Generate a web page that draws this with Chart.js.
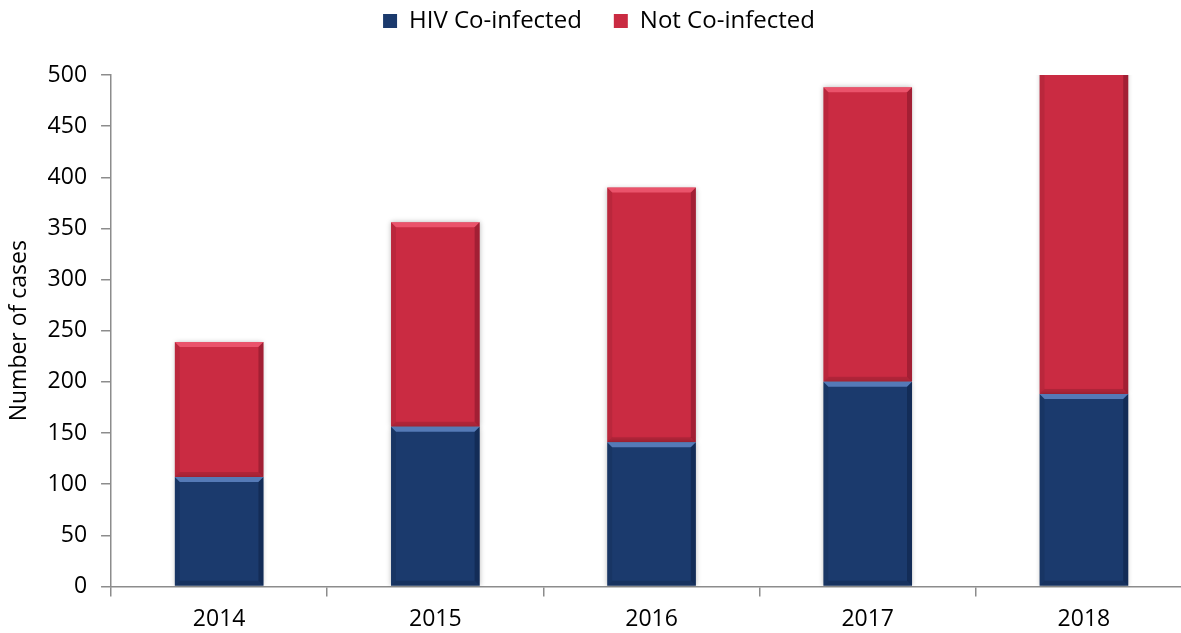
<!DOCTYPE html>
<html>
<head>
<meta charset="utf-8">
<script src="https://cdn.jsdelivr.net/npm/chart.js@4.4.1/dist/chart.umd.min.js"></script>
<style>
  html, body { margin: 0; padding: 0; background: #fff; overflow: hidden; }
  #wrap { width: 1192px; height: 633px; position: relative; }
</style>
</head>
<body>
<div id="wrap"><canvas id="chart"></canvas></div>
<script>
// Cases by year, split by HIV co-infection status
const years = ['2014', '2015', '2016', '2017', '2018'];
const hivCoinfected = [107, 156, 141, 200, 188];
const notCoinfected = [132, 200, 249, 288, 330];
const yTicks = [0, 50, 100, 150, 200, 250, 300, 350, 400, 450, 500];

const RED = '#CA2B42';
const BLUE = '#1B3A6D';
const FONT = "'Open Sans', 'Liberation Sans', sans-serif";

// Soft shadow behind the bars
const barShadow = {
  id: 'barShadow',
  beforeDatasetsDraw(chart) {
    const ctx = chart.ctx;
    ctx.save();
    ctx.shadowColor = 'rgba(0,0,0,0.28)';
    ctx.shadowBlur = 5;
    ctx.shadowOffsetX = 0;
    ctx.shadowOffsetY = 0;
  },
  afterDatasetsDraw(chart) {
    chart.ctx.restore();
  }
};

// Bevelled look on each bar segment: light top edge, darker sides
const bevel = {
  id: 'bevel',
  afterDatasetsDraw(chart) {
    const ctx = chart.ctx;
    const area = chart.chartArea;
    ctx.save();
    ctx.beginPath();
    ctx.rect(area.left, area.top, area.right - area.left, area.bottom - area.top);
    ctx.clip();
    chart.data.datasets.forEach((ds, i) => {
      const meta = chart.getDatasetMeta(i);
      const light = i === 0 ? 'rgba(110,150,215,0.7)' : 'rgba(255,110,135,0.6)';
      const dark = i === 0 ? 'rgba(5,20,45,0.35)' : 'rgba(90,10,25,0.35)';
      meta.data.forEach(bar => {
        const left = bar.x - bar.width / 2;
        const right = bar.x + bar.width / 2;
        const top = Math.min(bar.y, bar.base);
        const bottom = Math.max(bar.y, bar.base);
        const b = 5;
        ctx.fillStyle = light;
        ctx.beginPath();
        ctx.moveTo(left, top);
        ctx.lineTo(right, top);
        ctx.lineTo(right - b, top + b);
        ctx.lineTo(left + b, top + b);
        ctx.closePath();
        ctx.fill();
        ctx.fillStyle = dark;
        ctx.beginPath();
        ctx.moveTo(right, top);
        ctx.lineTo(right, bottom);
        ctx.lineTo(right - b, bottom - b);
        ctx.lineTo(right - b, top + b);
        ctx.closePath();
        ctx.fill();
        ctx.fillStyle = 'rgba(0,0,0,0.12)';
        ctx.beginPath();
        ctx.moveTo(left, bottom);
        ctx.lineTo(right, bottom);
        ctx.lineTo(right - b, bottom - b);
        ctx.lineTo(left + b, bottom - b);
        ctx.closePath();
        ctx.fill();
        ctx.fillStyle = 'rgba(0,0,0,0.08)';
        ctx.beginPath();
        ctx.moveTo(left, top);
        ctx.lineTo(left + b, top + b);
        ctx.lineTo(left + b, bottom - b);
        ctx.lineTo(left, bottom);
        ctx.closePath();
        ctx.fill();
      });
    });
    ctx.restore();
  }
};

// Extra room between the legend and the plot
const legendGap = {
  id: 'legendGap',
  beforeInit(chart) {
    const fit = chart.legend.fit;
    chart.legend.fit = function () {
      fit.bind(chart.legend)();
      this.height += 32;
    };
  }
};

new Chart(document.getElementById('chart'), {
  type: 'bar',
  data: {
    labels: years,
    datasets: [
      { label: 'HIV Co-infected', data: hivCoinfected, backgroundColor: BLUE, borderWidth: 0 },
      { label: 'Not Co-infected', data: notCoinfected, backgroundColor: RED, borderWidth: 0 }
    ]
  },
  options: {
    responsive: true,
    maintainAspectRatio: false,
    animation: false,
    layout: { padding: { top: -23, left: 6, right: 0, bottom: -9 } },
    datasets: { bar: { barPercentage: 0.41, categoryPercentage: 1 } },
    plugins: {
      legend: {
        position: 'top',
        align: 'center',
        labels: {
          boxWidth: 14, boxHeight: 14, padding: 32,
          color: '#000', font: { family: FONT, size: 24 }
        }
      },
      tooltip: { enabled: false }
    },
    scales: {
      x: {
        stacked: true,
        offset: true,
        border: { color: '#8c8c8c', width: 1.5 },
        grid: { display: true, drawOnChartArea: false, offset: true, tickLength: 10, color: '#8c8c8c', lineWidth: 1.5 },
        ticks: { color: '#000', font: { family: FONT, size: 23 }, padding: 9 }
      },
      y: {
        stacked: true,
        min: 0,
        max: 500,
        afterBuildTicks(scale) { scale.ticks = yTicks.map(v => ({ value: v })); },
        border: { color: '#8c8c8c', width: 1.5 },
        grid: { display: true, drawOnChartArea: false, tickLength: 10, color: '#8c8c8c', lineWidth: 1.5 },
        ticks: { color: '#000', font: { family: FONT, size: 23 }, padding: 14 },
        title: { display: true, text: 'Number of cases', color: '#000', font: { family: FONT, size: 23 }, padding: { top: 0, bottom: 0 } }
      }
    }
  },
  plugins: [barShadow, bevel, legendGap]
});
</script>
</body>
</html>
